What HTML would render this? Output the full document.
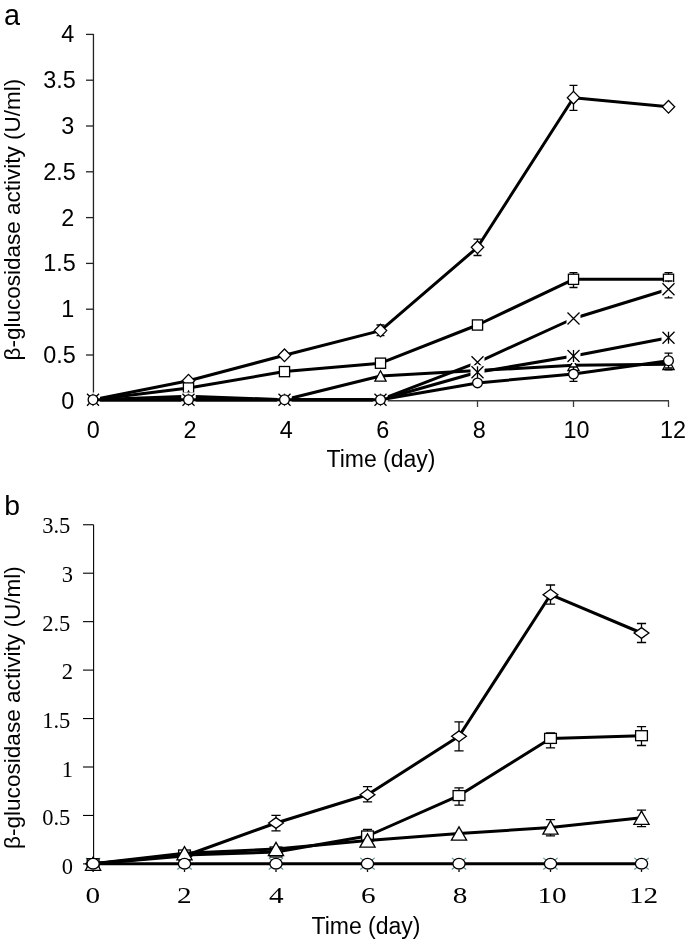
<!DOCTYPE html>
<html><head><meta charset="utf-8"><style>
html,body{margin:0;padding:0;background:#fff;}
body{width:685px;height:939px;overflow:hidden;font-family:"Liberation Sans",sans-serif;}
svg{display:block;will-change:transform;}
</style></head><body>
<svg width="685" height="939" viewBox="0 0 685 939">
<text x="3.9" y="24.8" font-family="Liberation Sans" font-size="28.8">a</text>
<path d="M93.45 34L93.45 400.8" stroke="#222" stroke-width="1.3"/>
<path d="M86 400.8L93.5 400.8" stroke="#222" stroke-width="1.3"/>
<text x="74.3" y="409.2" text-anchor="end" font-family="Liberation Sans" font-size="23.4">0</text>
<path d="M86 355L93.5 355" stroke="#222" stroke-width="1.3"/>
<text x="75.8" y="363.27" text-anchor="end" font-family="Liberation Sans" font-size="23.4">0.5</text>
<path d="M86 309.2L93.5 309.2" stroke="#222" stroke-width="1.3"/>
<text x="74.3" y="317.35" text-anchor="end" font-family="Liberation Sans" font-size="23.4">1</text>
<path d="M86 263.4L93.5 263.4" stroke="#222" stroke-width="1.3"/>
<text x="75.8" y="271.43" text-anchor="end" font-family="Liberation Sans" font-size="23.4">1.5</text>
<path d="M86 217.6L93.5 217.6" stroke="#222" stroke-width="1.3"/>
<text x="74.3" y="225.5" text-anchor="end" font-family="Liberation Sans" font-size="23.4">2</text>
<path d="M86 171.8L93.5 171.8" stroke="#222" stroke-width="1.3"/>
<text x="75.8" y="179.57" text-anchor="end" font-family="Liberation Sans" font-size="23.4">2.5</text>
<path d="M86 126L93.5 126" stroke="#222" stroke-width="1.3"/>
<text x="74.3" y="133.65" text-anchor="end" font-family="Liberation Sans" font-size="23.4">3</text>
<path d="M86 80.2L93.5 80.2" stroke="#222" stroke-width="1.3"/>
<text x="75.8" y="87.73" text-anchor="end" font-family="Liberation Sans" font-size="23.4">3.5</text>
<path d="M86 34.4L93.5 34.4" stroke="#222" stroke-width="1.3"/>
<text x="74.3" y="41.8" text-anchor="end" font-family="Liberation Sans" font-size="23.4">4</text>
<path d="M93.5 400.8L669 400.8" stroke="#3c3c3c" stroke-width="1.4"/>
<text x="93.3" y="438.2" text-anchor="middle" font-family="Liberation Sans" font-size="23.4">0</text>
<path d="M188.5 400.8L188.5 407" stroke="#3c3c3c" stroke-width="1.3"/>
<text x="190" y="438.2" text-anchor="middle" font-family="Liberation Sans" font-size="23.4">2</text>
<path d="M284.5 400.8L284.5 407" stroke="#3c3c3c" stroke-width="1.3"/>
<text x="286.2" y="438.2" text-anchor="middle" font-family="Liberation Sans" font-size="23.4">4</text>
<path d="M380.5 400.8L380.5 407" stroke="#3c3c3c" stroke-width="1.3"/>
<text x="382.8" y="438.2" text-anchor="middle" font-family="Liberation Sans" font-size="23.4">6</text>
<path d="M477.5 400.8L477.5 407" stroke="#3c3c3c" stroke-width="1.3"/>
<text x="479.2" y="438.2" text-anchor="middle" font-family="Liberation Sans" font-size="23.4">8</text>
<path d="M573.5 400.8L573.5 407" stroke="#3c3c3c" stroke-width="1.3"/>
<text x="576.6" y="438.2" text-anchor="middle" font-family="Liberation Sans" font-size="23.4">10</text>
<path d="M668.5 400.8L668.5 407" stroke="#3c3c3c" stroke-width="1.3"/>
<text x="673" y="438.2" text-anchor="middle" font-family="Liberation Sans" font-size="23.4">12</text>
<text x="381" y="466.6" text-anchor="middle" font-family="Liberation Sans" font-size="23">Time (day)</text>
<text transform="translate(20 219.6) rotate(-90)" text-anchor="middle" font-family="Liberation Sans" font-size="22.5">β-glucosidase activity (U/ml)</text>
<polyline points="93,399.7 188.5,380.7 284.5,355.3 380.5,330.6 477.5,247.3 573.5,97.7 668.5,106.8" fill="none" stroke="#000" stroke-width="3" stroke-linejoin="round"/>
<path d="M380.5 325L380.5 335.6M376.5 325L384.5 325M376.5 335.6L384.5 335.6" stroke="#000" stroke-width="1.3" fill="none"/>
<path d="M477.5 239.1L477.5 255.5M473.5 239.1L481.5 239.1M473.5 255.5L481.5 255.5" stroke="#000" stroke-width="1.3" fill="none"/>
<path d="M573.5 85.3L573.5 110.4M569.5 85.3L577.5 85.3M569.5 110.4L577.5 110.4" stroke="#000" stroke-width="1.3" fill="none"/>
<path d="M93 393.4L99.2 399.7L93 406L86.8 399.7Z" fill="#fff" stroke="#000" stroke-width="1.3"/>
<path d="M188.5 374.4L194.7 380.7L188.5 387L182.3 380.7Z" fill="#fff" stroke="#000" stroke-width="1.3"/>
<path d="M284.5 349L290.7 355.3L284.5 361.6L278.3 355.3Z" fill="#fff" stroke="#000" stroke-width="1.3"/>
<path d="M380.5 324.3L386.7 330.6L380.5 336.9L374.3 330.6Z" fill="#fff" stroke="#000" stroke-width="1.3"/>
<path d="M477.5 241L483.7 247.3L477.5 253.6L471.3 247.3Z" fill="#fff" stroke="#000" stroke-width="1.3"/>
<path d="M573.5 91.4L579.7 97.7L573.5 104L567.3 97.7Z" fill="#fff" stroke="#000" stroke-width="1.3"/>
<path d="M668.5 100.5L674.7 106.8L668.5 113.1L662.3 106.8Z" fill="#fff" stroke="#000" stroke-width="1.3"/>
<polyline points="93,399.7 188.5,388 284.5,371.6 380.5,363.2 477.5,325 573.5,279.3 668.5,279.3" fill="none" stroke="#000" stroke-width="3" stroke-linejoin="round"/>
<path d="M573.5 272.6L573.5 287.5M569.5 272.6L577.5 272.6M569.5 287.5L577.5 287.5" stroke="#000" stroke-width="1.3" fill="none"/>
<path d="M668.5 272.6L668.5 286M664.5 272.6L672.5 272.6M664.5 286L672.5 286" stroke="#000" stroke-width="1.3" fill="none"/>
<rect x="87.9" y="394.6" width="10.2" height="10.2" fill="#fff" stroke="#000" stroke-width="1.3"/>
<rect x="183.4" y="382.9" width="10.2" height="10.2" fill="#fff" stroke="#000" stroke-width="1.3"/>
<rect x="279.4" y="366.5" width="10.2" height="10.2" fill="#fff" stroke="#000" stroke-width="1.3"/>
<rect x="375.4" y="358.1" width="10.2" height="10.2" fill="#fff" stroke="#000" stroke-width="1.3"/>
<rect x="472.4" y="319.9" width="10.2" height="10.2" fill="#fff" stroke="#000" stroke-width="1.3"/>
<rect x="568.4" y="274.2" width="10.2" height="10.2" fill="#fff" stroke="#000" stroke-width="1.3"/>
<rect x="663.4" y="274.2" width="10.2" height="10.2" fill="#fff" stroke="#000" stroke-width="1.3"/>
<polyline points="93,399.7 188.5,396.3 284.5,399.7 380.5,376 477.5,370.6 573.5,365.3 668.5,364.3" fill="none" stroke="#000" stroke-width="3" stroke-linejoin="round"/>
<path d="M668.5 359.5L668.5 369.8M664.5 359.5L672.5 359.5M664.5 369.8L672.5 369.8" stroke="#000" stroke-width="1.3" fill="none"/>
<path d="M93 394.5L98.6 404.9L87.4 404.9Z" fill="#fff" stroke="#000" stroke-width="1.3" stroke-linejoin="miter"/>
<path d="M188.5 391.1L194.1 401.5L182.9 401.5Z" fill="#fff" stroke="#000" stroke-width="1.3" stroke-linejoin="miter"/>
<path d="M284.5 394.5L290.1 404.9L278.9 404.9Z" fill="#fff" stroke="#000" stroke-width="1.3" stroke-linejoin="miter"/>
<path d="M380.5 370.8L386.1 381.2L374.9 381.2Z" fill="#fff" stroke="#000" stroke-width="1.3" stroke-linejoin="miter"/>
<path d="M477.5 365.4L483.1 375.8L471.9 375.8Z" fill="#fff" stroke="#000" stroke-width="1.3" stroke-linejoin="miter"/>
<path d="M573.5 360.1L579.1 370.5L567.9 370.5Z" fill="#fff" stroke="#000" stroke-width="1.3" stroke-linejoin="miter"/>
<path d="M668.5 359.1L674.1 369.5L662.9 369.5Z" fill="#fff" stroke="#000" stroke-width="1.3" stroke-linejoin="miter"/>
<polyline points="93,399.7 188.5,399.7 284.5,399.7 380.5,399.7 477.5,362.3 573.5,318.5 668.5,289.2" fill="none" stroke="#000" stroke-width="3" stroke-linejoin="round"/>
<path d="M668.5 281L668.5 297.9M664.5 281L672.5 281M664.5 297.9L672.5 297.9" stroke="#000" stroke-width="1.3" fill="none"/>
<rect x="86" y="392.7" width="14" height="14" fill="#fff"/><path d="M87 393.7L99 405.7M99 393.7L87 405.7" stroke="#000" stroke-width="1.3"/>
<rect x="181.5" y="392.7" width="14" height="14" fill="#fff"/><path d="M182.5 393.7L194.5 405.7M194.5 393.7L182.5 405.7" stroke="#000" stroke-width="1.3"/>
<rect x="277.5" y="392.7" width="14" height="14" fill="#fff"/><path d="M278.5 393.7L290.5 405.7M290.5 393.7L278.5 405.7" stroke="#000" stroke-width="1.3"/>
<rect x="373.5" y="392.7" width="14" height="14" fill="#fff"/><path d="M374.5 393.7L386.5 405.7M386.5 393.7L374.5 405.7" stroke="#000" stroke-width="1.3"/>
<rect x="470.5" y="355.3" width="14" height="14" fill="#fff"/><path d="M471.5 356.3L483.5 368.3M483.5 356.3L471.5 368.3" stroke="#000" stroke-width="1.3"/>
<rect x="566.5" y="311.5" width="14" height="14" fill="#fff"/><path d="M567.5 312.5L579.5 324.5M579.5 312.5L567.5 324.5" stroke="#000" stroke-width="1.3"/>
<rect x="661.5" y="282.2" width="14" height="14" fill="#fff"/><path d="M662.5 283.2L674.5 295.2M674.5 283.2L662.5 295.2" stroke="#000" stroke-width="1.3"/>
<polyline points="93,399.7 188.5,399.7 284.5,399.7 380.5,399.7 477.5,372.3 573.5,356 668.5,337.7" fill="none" stroke="#000" stroke-width="3" stroke-linejoin="round"/>
<rect x="86" y="392.7" width="14" height="14" fill="#fff"/><path d="M87 393.7L99 405.7M99 393.7L87 405.7" stroke="#000" stroke-width="1.3"/><path d="M93 393.7L93 405.7" stroke="#000" stroke-width="1.3"/>
<rect x="181.5" y="392.7" width="14" height="14" fill="#fff"/><path d="M182.5 393.7L194.5 405.7M194.5 393.7L182.5 405.7" stroke="#000" stroke-width="1.3"/><path d="M188.5 393.7L188.5 405.7" stroke="#000" stroke-width="1.3"/>
<rect x="277.5" y="392.7" width="14" height="14" fill="#fff"/><path d="M278.5 393.7L290.5 405.7M290.5 393.7L278.5 405.7" stroke="#000" stroke-width="1.3"/><path d="M284.5 393.7L284.5 405.7" stroke="#000" stroke-width="1.3"/>
<rect x="373.5" y="392.7" width="14" height="14" fill="#fff"/><path d="M374.5 393.7L386.5 405.7M386.5 393.7L374.5 405.7" stroke="#000" stroke-width="1.3"/><path d="M380.5 393.7L380.5 405.7" stroke="#000" stroke-width="1.3"/>
<rect x="470.5" y="365.3" width="14" height="14" fill="#fff"/><path d="M471.5 366.3L483.5 378.3M483.5 366.3L471.5 378.3" stroke="#000" stroke-width="1.3"/><path d="M477.5 366.3L477.5 378.3" stroke="#000" stroke-width="1.3"/>
<rect x="566.5" y="349" width="14" height="14" fill="#fff"/><path d="M567.5 350L579.5 362M579.5 350L567.5 362" stroke="#000" stroke-width="1.3"/><path d="M573.5 350L573.5 362" stroke="#000" stroke-width="1.3"/>
<rect x="661.5" y="330.7" width="14" height="14" fill="#fff"/><path d="M662.5 331.7L674.5 343.7M674.5 331.7L662.5 343.7" stroke="#000" stroke-width="1.3"/><path d="M668.5 331.7L668.5 343.7" stroke="#000" stroke-width="1.3"/>
<polyline points="93,399.7 188.5,399.7 284.5,399.7 380.5,399.7 477.5,382.9 573.5,374.1 668.5,360.7" fill="none" stroke="#000" stroke-width="3" stroke-linejoin="round"/>
<path d="M573.5 367L573.5 381.4M569.5 367L577.5 367M569.5 381.4L577.5 381.4" stroke="#000" stroke-width="1.3" fill="none"/>
<path d="M668.5 353.1L668.5 368M664.5 353.1L672.5 353.1M664.5 368L672.5 368" stroke="#000" stroke-width="1.3" fill="none"/>
<ellipse cx="93" cy="399.7" rx="4.85" ry="4.85" fill="#fff" stroke="#000" stroke-width="1.3"/>
<ellipse cx="188.5" cy="399.7" rx="4.85" ry="4.85" fill="#fff" stroke="#000" stroke-width="1.3"/>
<ellipse cx="284.5" cy="399.7" rx="4.85" ry="4.85" fill="#fff" stroke="#000" stroke-width="1.3"/>
<ellipse cx="380.5" cy="399.7" rx="4.85" ry="4.85" fill="#fff" stroke="#000" stroke-width="1.3"/>
<ellipse cx="477.5" cy="382.9" rx="4.85" ry="4.85" fill="#fff" stroke="#000" stroke-width="1.3"/>
<ellipse cx="573.5" cy="374.1" rx="4.85" ry="4.85" fill="#fff" stroke="#000" stroke-width="1.3"/>
<ellipse cx="668.5" cy="360.7" rx="4.85" ry="4.85" fill="#fff" stroke="#000" stroke-width="1.3"/>
<text x="4.2" y="515.4" font-family="Liberation Sans" font-size="28.4">b</text>
<path d="M93.6 524.8L93.6 858" stroke="#000" stroke-width="1.1"/>
<path d="M83 863.9L93.6 863.9" stroke="#000" stroke-width="1.1"/>
<text x="73" y="874" text-anchor="end" font-family="Liberation Serif" font-size="22.5">0</text>
<path d="M83 815.45L93.6 815.45" stroke="#000" stroke-width="1.1"/>
<text x="70.3" y="825.3" text-anchor="end" font-family="Liberation Serif" font-size="22.5">0.5</text>
<path d="M83 767L93.6 767" stroke="#000" stroke-width="1.1"/>
<text x="73" y="776.6" text-anchor="end" font-family="Liberation Serif" font-size="22.5">1</text>
<path d="M83 718.55L93.6 718.55" stroke="#000" stroke-width="1.1"/>
<text x="70.3" y="727.9" text-anchor="end" font-family="Liberation Serif" font-size="22.5">1.5</text>
<path d="M83 670.1L93.6 670.1" stroke="#000" stroke-width="1.1"/>
<text x="73" y="679.2" text-anchor="end" font-family="Liberation Serif" font-size="22.5">2</text>
<path d="M83 621.65L93.6 621.65" stroke="#000" stroke-width="1.1"/>
<text x="70.3" y="630.5" text-anchor="end" font-family="Liberation Serif" font-size="22.5">2.5</text>
<path d="M83 573.2L93.6 573.2" stroke="#000" stroke-width="1.1"/>
<text x="73" y="581.8" text-anchor="end" font-family="Liberation Serif" font-size="22.5">3</text>
<path d="M83 524.75L93.6 524.75" stroke="#000" stroke-width="1.1"/>
<text x="70.3" y="533.1" text-anchor="end" font-family="Liberation Serif" font-size="22.5">3.5</text>
<text transform="translate(92.9 902.8) scale(1.3 1)" text-anchor="middle" font-family="Liberation Serif" font-size="22.5">0</text>
<text transform="translate(184.4 902.8) scale(1.3 1)" text-anchor="middle" font-family="Liberation Serif" font-size="22.5">2</text>
<text transform="translate(276.3 902.8) scale(1.3 1)" text-anchor="middle" font-family="Liberation Serif" font-size="22.5">4</text>
<text transform="translate(368.4 902.8) scale(1.3 1)" text-anchor="middle" font-family="Liberation Serif" font-size="22.5">6</text>
<text transform="translate(460 902.8) scale(1.3 1)" text-anchor="middle" font-family="Liberation Serif" font-size="22.5">8</text>
<text transform="translate(552 902.8) scale(1.3 1)" text-anchor="middle" font-family="Liberation Serif" font-size="22.5">10</text>
<text transform="translate(643.5 902.8) scale(1.3 1)" text-anchor="middle" font-family="Liberation Serif" font-size="22.5">12</text>
<text x="366" y="933.7" text-anchor="middle" font-family="Liberation Sans" font-size="23">Time (day)</text>
<text transform="translate(20 707.6) rotate(-90)" text-anchor="middle" font-family="Liberation Sans" font-size="22.6">β-glucosidase activity (U/ml)</text>
<path d="M85.9 857.9L100.3 869.5M100.3 857.9L85.9 869.5" stroke="#6a9395" stroke-width="1.2"/>
<path d="M93.1 869.7L93.1 871.9" stroke="#000" stroke-width="1.3"/>
<path d="M177.3 857.9L191.7 869.5M191.7 857.9L177.3 869.5" stroke="#6a9395" stroke-width="1.2"/>
<path d="M184.5 869.7L184.5 871.9" stroke="#000" stroke-width="1.3"/>
<path d="M268.8 857.9L283.2 869.5M283.2 857.9L268.8 869.5" stroke="#6a9395" stroke-width="1.2"/>
<path d="M276 869.7L276 871.9" stroke="#000" stroke-width="1.3"/>
<path d="M360.3 857.9L374.7 869.5M374.7 857.9L360.3 869.5" stroke="#6a9395" stroke-width="1.2"/>
<path d="M367.5 869.7L367.5 871.9" stroke="#000" stroke-width="1.3"/>
<path d="M451.8 857.9L466.2 869.5M466.2 857.9L451.8 869.5" stroke="#6a9395" stroke-width="1.2"/>
<path d="M459 869.7L459 871.9" stroke="#000" stroke-width="1.3"/>
<path d="M543.3 857.9L557.7 869.5M557.7 857.9L543.3 869.5" stroke="#6a9395" stroke-width="1.2"/>
<path d="M550.5 869.7L550.5 871.9" stroke="#000" stroke-width="1.3"/>
<path d="M634.3 857.9L648.7 869.5M648.7 857.9L634.3 869.5" stroke="#6a9395" stroke-width="1.2"/>
<path d="M641.5 869.7L641.5 871.9" stroke="#000" stroke-width="1.3"/>
<polyline points="93.1,863.7 184.5,856 276,823 367.5,794.7 459,736.3 550.5,594.7 641.5,633" fill="none" stroke="#000" stroke-width="3" stroke-linejoin="round"/>
<path d="M276 815.3L276 830.8M271.4 815.3L280.6 815.3M271.4 830.8L280.6 830.8" stroke="#000" stroke-width="1.3" fill="none"/>
<path d="M367.5 786.6L367.5 801.9M362.9 786.6L372.1 786.6M362.9 801.9L372.1 801.9" stroke="#000" stroke-width="1.3" fill="none"/>
<path d="M459 721.8L459 750.8M454.4 721.8L463.6 721.8M454.4 750.8L463.6 750.8" stroke="#000" stroke-width="1.3" fill="none"/>
<path d="M550.5 585L550.5 604.1M545.9 585L555.1 585M545.9 604.1L555.1 604.1" stroke="#000" stroke-width="1.3" fill="none"/>
<path d="M641.5 623.5L641.5 642.5M636.9 623.5L646.1 623.5M636.9 642.5L646.1 642.5" stroke="#000" stroke-width="1.3" fill="none"/>
<path d="M93.1 858.3L100.5 863.7L93.1 869.1L85.7 863.7Z" fill="#fff" stroke="#000" stroke-width="1.3"/>
<path d="M184.5 850.6L191.9 856L184.5 861.4L177.1 856Z" fill="#fff" stroke="#000" stroke-width="1.3"/>
<path d="M276 817.6L283.4 823L276 828.4L268.6 823Z" fill="#fff" stroke="#000" stroke-width="1.3"/>
<path d="M367.5 789.3L374.9 794.7L367.5 800.1L360.1 794.7Z" fill="#fff" stroke="#000" stroke-width="1.3"/>
<path d="M459 730.9L466.4 736.3L459 741.7L451.6 736.3Z" fill="#fff" stroke="#000" stroke-width="1.3"/>
<path d="M550.5 589.3L557.9 594.7L550.5 600.1L543.1 594.7Z" fill="#fff" stroke="#000" stroke-width="1.3"/>
<path d="M641.5 627.6L648.9 633L641.5 638.4L634.1 633Z" fill="#fff" stroke="#000" stroke-width="1.3"/>
<polyline points="93.1,863.7 184.5,855 276,852 367.5,836 459,795.6 550.5,738.4 641.5,735.7" fill="none" stroke="#000" stroke-width="3" stroke-linejoin="round"/>
<path d="M367.5 829.5L367.5 842M362.9 829.5L372.1 829.5M362.9 842L372.1 842" stroke="#000" stroke-width="1.3" fill="none"/>
<path d="M459 787.9L459 805.1M454.4 787.9L463.6 787.9M454.4 805.1L463.6 805.1" stroke="#000" stroke-width="1.3" fill="none"/>
<path d="M550.5 732.8L550.5 747.8M545.9 732.8L555.1 732.8M545.9 747.8L555.1 747.8" stroke="#000" stroke-width="1.3" fill="none"/>
<path d="M641.5 726.7L641.5 745.5M636.9 726.7L646.1 726.7M636.9 745.5L646.1 745.5" stroke="#000" stroke-width="1.3" fill="none"/>
<rect x="87.2" y="858.7" width="11.8" height="10" fill="#fff" stroke="#000" stroke-width="1.3"/>
<rect x="178.6" y="850" width="11.8" height="10" fill="#fff" stroke="#000" stroke-width="1.3"/>
<rect x="270.1" y="847" width="11.8" height="10" fill="#fff" stroke="#000" stroke-width="1.3"/>
<rect x="361.6" y="831" width="11.8" height="10" fill="#fff" stroke="#000" stroke-width="1.3"/>
<rect x="453.1" y="790.6" width="11.8" height="10" fill="#fff" stroke="#000" stroke-width="1.3"/>
<rect x="544.6" y="733.4" width="11.8" height="10" fill="#fff" stroke="#000" stroke-width="1.3"/>
<rect x="635.6" y="730.7" width="11.8" height="10" fill="#fff" stroke="#000" stroke-width="1.3"/>
<polyline points="93.1,863.7 184.5,853.2 276,849 367.5,840.5 459,833.5 550.5,827.5 641.5,817.7" fill="none" stroke="#000" stroke-width="3" stroke-linejoin="round"/>
<path d="M550.5 819.7L550.5 835.8M545.9 819.7L555.1 819.7M545.9 835.8L555.1 835.8" stroke="#000" stroke-width="1.3" fill="none"/>
<path d="M641.5 810.2L641.5 826.6M636.9 810.2L646.1 810.2M636.9 826.6L646.1 826.6" stroke="#000" stroke-width="1.3" fill="none"/>
<path d="M93.1 857.1L100.7 870.3L85.5 870.3Z" fill="#fff" stroke="#000" stroke-width="1.3" stroke-linejoin="miter"/>
<path d="M184.5 846.6L192.1 859.8L176.9 859.8Z" fill="#fff" stroke="#000" stroke-width="1.3" stroke-linejoin="miter"/>
<path d="M276 842.4L283.6 855.6L268.4 855.6Z" fill="#fff" stroke="#000" stroke-width="1.3" stroke-linejoin="miter"/>
<path d="M367.5 833.9L375.1 847.1L359.9 847.1Z" fill="#fff" stroke="#000" stroke-width="1.3" stroke-linejoin="miter"/>
<path d="M459 826.9L466.6 840.1L451.4 840.1Z" fill="#fff" stroke="#000" stroke-width="1.3" stroke-linejoin="miter"/>
<path d="M550.5 820.9L558.1 834.1L542.9 834.1Z" fill="#fff" stroke="#000" stroke-width="1.3" stroke-linejoin="miter"/>
<path d="M641.5 811.1L649.1 824.3L633.9 824.3Z" fill="#fff" stroke="#000" stroke-width="1.3" stroke-linejoin="miter"/>
<polyline points="93.1,863.7 184.5,863.7 276,863.7 367.5,863.7 459,863.7 550.5,863.7 641.5,863.7" fill="none" stroke="#000" stroke-width="3" stroke-linejoin="round"/>
<ellipse cx="93.1" cy="863.7" rx="6.1" ry="5.3" fill="#fff" stroke="#000" stroke-width="1.3"/>
<ellipse cx="184.5" cy="863.7" rx="6.1" ry="5.3" fill="#fff" stroke="#000" stroke-width="1.3"/>
<ellipse cx="276" cy="863.7" rx="6.1" ry="5.3" fill="#fff" stroke="#000" stroke-width="1.3"/>
<ellipse cx="367.5" cy="863.7" rx="6.1" ry="5.3" fill="#fff" stroke="#000" stroke-width="1.3"/>
<ellipse cx="459" cy="863.7" rx="6.1" ry="5.3" fill="#fff" stroke="#000" stroke-width="1.3"/>
<ellipse cx="550.5" cy="863.7" rx="6.1" ry="5.3" fill="#fff" stroke="#000" stroke-width="1.3"/>
<ellipse cx="641.5" cy="863.7" rx="6.1" ry="5.3" fill="#fff" stroke="#000" stroke-width="1.3"/>
</svg>
</body></html>
